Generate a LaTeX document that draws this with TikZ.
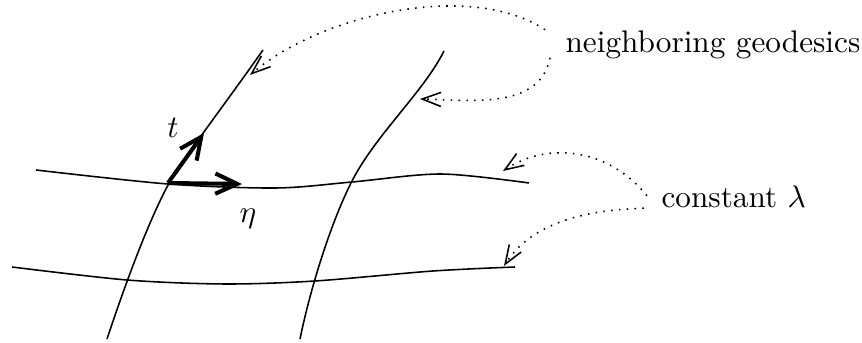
\documentclass[tikz,border=0pt]{standalone}
\usepackage{amsmath}
\usepackage{tikz}
\usetikzlibrary{arrows.meta,positioning}

\begin{document}
\begin{tikzpicture}[
    x=0.32pt, y=-0.32pt,
    geodesic/.style={line width=0.5pt},
    level/.style={line width=0.5pt},
    vec/.style={-{Straight Barb[length=7pt,width=6.5pt]}, line width=1.3pt},
    pointer/.style={-{Straight Barb[length=6pt,width=4.5pt]}, dotted, line width=0.5pt}
  ]
    \useasboundingbox (0,0) rectangle (862,343);

    % geodesics and curves of constant lambda
    \draw[geodesic] (107,339) .. controls (130,270) and (155,205) .. (175,173)
                              .. controls (190,150) and (230,97) .. (263,50);
    \draw[geodesic] (300,339) .. controls (310,290) and (330,225) .. (351,183)
                              .. controls (375,135) and (423,93) .. (444,51);
    \draw[level] plot[smooth] coordinates {(36,170) (168,184) (276,188) (352,182) (441,174) (529,183)};
    \draw[level] plot[smooth] coordinates {(12,267) (127,280) (225,284) (315,281) (433,271) (515,267)};

    % basis vectors
    \coordinate (base) at (168,183);
    \coordinate (ttip) at (204,133);
    \coordinate (etip) at (242,184);
    \draw[vec] (base) -- (ttip);
    \draw[vec] (base) -- (etip);
    \node (tlabel) at (173,128) {$t$};
    \node (elabel) at (248,219) {$\eta$};

    % labels
    \node[anchor=base west, inner sep=0pt] (geolabel) at (565,53) {neighboring geodesics};
    \node[anchor=base west, inner sep=0pt] (lamlabel) at (661,208) {constant $\lambda$};

    \coordinate (geoA) at (250,75);
    \coordinate (geoB) at (420,99);
    \coordinate (lamA) at (503,171);
    \coordinate (lamB) at (504,266);

    \draw[pointer] ([xshift=-6.4pt,yshift=5pt]geolabel.west) .. controls (470,-20) and (320,15) .. (geoA);
    \draw[pointer] ([xshift=-4.8pt,yshift=-4pt]geolabel.west) .. controls (540,110) and (470,100) .. (geoB);
    \draw[pointer] ([xshift=-4.5pt,yshift=0.5pt]lamlabel.west) .. controls (610,150) and (550,140) .. (lamA);
    \draw[pointer] ([xshift=-5.5pt,yshift=-3.5pt]lamlabel.west) .. controls (580,210) and (530,225) .. (lamB);
  \end{tikzpicture}
\end{document}
